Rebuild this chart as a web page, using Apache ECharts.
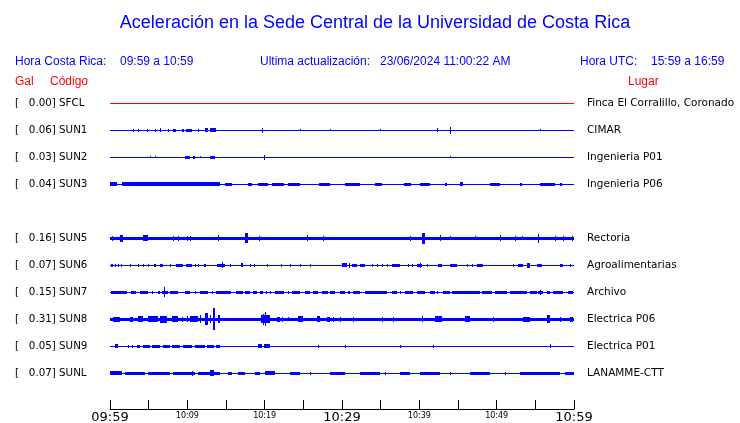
<!DOCTYPE html>
<html>
<head>
<meta charset="utf-8">
<script src="https://cdn.jsdelivr.net/npm/echarts@6/dist/echarts.min.js"></script>
<style>html,body{margin:0;padding:0;background:#fff}#c{width:740px;height:423px}</style>
</head>
<body>
<div id="c"></div>
<script>
// ---- data ----
const codes = ['SFCL','SUN1','SUN2','SUN3','','SUN5','SUN6','SUN7','SUN8','SUN9','SUNL'];
const galValues = [0.00, 0.06, 0.03, 0.04, null, 0.16, 0.07, 0.15, 0.31, 0.05, 0.07];
const places = ['Finca El Corralillo, Coronado','CIMAR','Ingenieria P01','Ingenieria P06','','Rectoria','Agroalimentarias','Archivo','Electrica P06','Electrica P01','LANAMME-CTT'];
const timeLabels = ['09:59','10:09','10:19','10:29','10:39','10:49','10:59'];
const majorLabels = ['09:59','10:29','10:59'];

// bursts: [start minute, end minute, half amplitude] (minutes after 09:59)
const sfcl = [[0,60,0.5]];
const sun1 = [[0,60,0.5],[2.97,2.97,1.5],[3.62,3.62,1.5],[4.78,4.78,1.5],[5.82,5.82,1.5],[6.47,6.47,2],[7.5,7.5,1.5],[8.15,8.53,1.5],[9.31,9.57,1.5],[9.83,10.6,1.5],[11.38,11.38,1.5],[12.28,12.67,2],[12.93,13.7,2],[19.65,19.65,2.5],[24.57,24.57,1],[28.45,28.45,1],[34.91,34.91,1],[42.28,42.28,2],[43.97,43.97,3.5],[55.6,55.6,1]];
const sun2 = [[0,60,0.5],[5.17,5.17,1],[5.82,5.82,1],[9.7,10.34,1.5],[10.73,10.99,1.5],[11.64,11.64,1],[12.93,13.58,1.5],[19.91,19.91,2.5],[43.97,43.97,1]];
const sun3 = [[0,60,0.5],[0,0.9,2],[1.6,14.2,2],[14.9,15.8,1.5],[17.9,18.3,1.5],[19.1,20.4,1.5],[21.0,22.5,1.5],[23.0,24.6,1.5],[27.0,28.4,1.5],[30.4,32.3,1.5],[34.3,35.2,1.5],[38.0,38.9,1.5],[40.1,41.4,1.5],[43.3,43.6,1.5],[45.3,45.6,2],[49.1,50.4,1.5],[53.0,53.3,1.5],[55.6,57.5,1.5],[58.2,58.5,1.5]];
const sun5 = [[0,60,1.5],[0.26,0.26,2.5],[1.29,1.68,3.5],[4.27,4.91,3],[8.15,8.15,2.5],[8.79,8.79,2.5],[9.96,9.96,2.5],[10.34,10.34,2.5],[13.97,13.97,3],[17.46,17.85,5],[19.27,19.27,2.5],[25.5,25.6,3],[27.54,27.54,2.5],[38.79,38.79,2.5],[40.35,40.73,5.5],[42.67,42.67,3],[43.97,43.97,2],[47.2,47.2,2],[50.43,50.43,3],[52.37,52.37,2.5],[53.27,53.27,2],[55.34,55.34,4.5],[57.54,57.54,2.5],[58.58,58.58,2.5],[59.74,59.87,2.5]];
const sun6 = [[0,60,0.5],[0.13,0.39,1.5],[0.65,0.65,1.5],[1.03,1.03,1.5],[1.42,1.42,1.5],[2.59,2.59,1.5],[3.62,3.62,1.5],[4.27,4.27,1.5],[4.91,5.04,1.5],[5.69,5.95,1.5],[6.47,6.85,1.5],[7.76,7.76,1.5],[8.53,9.44,1.5],[9.83,10.6,1.5],[10.99,10.99,1.5],[11.38,11.38,1.5],[12.15,12.41,1.5],[13.84,14.87,1.5],[14.48,14.48,3],[15.52,15.52,1.5],[16.94,17.2,2],[18.1,18.1,1.5],[18.62,18.62,1.5],[20.3,20.3,1.5],[22.11,22.11,1.5],[23.28,23.28,1.5],[24.57,24.57,1.5],[25.86,25.86,1.5],[30.0,30.65,2],[30.9,30.9,2.5],[31.29,31.94,1.5],[32.33,32.97,1.5],[33.88,33.88,1.5],[34.53,34.53,1.5],[35.17,35.17,1.5],[35.82,35.82,1.5],[36.47,37.5,1.5],[38.53,38.53,1.5],[39.05,39.05,1.5],[39.7,40.35,1.5],[40.09,40.09,2.5],[40.99,40.99,1.5],[42.41,42.93,1.5],[43.97,44.87,1.5],[46.16,46.16,1.5],[46.81,46.81,1.5],[47.46,48.23,1.5],[52.11,52.11,1.5],[52.76,53.4,1.5],[53.92,54.31,2.5],[55.21,55.86,1.5],[58.19,58.58,1.5],[59.48,59.48,1.5]];
const sun7 = [[0,60,0.5],[0.13,2.2,1.5],[2.72,3.36,1.5],[3.88,4.91,1.5],[5.43,5.43,1.5],[6.21,6.47,1.5],[6.72,7.5,1.5],[6.98,6.98,5],[7.76,8.79,1.5],[9.7,10.34,1.5],[10.99,10.99,1.5],[11.64,12.67,1.5],[13.19,13.19,1.5],[13.71,15.65,1.5],[16.29,17.2,1.5],[17.46,18.1,1.5],[18.49,19.01,1.5],[19.4,19.78,1.5],[20.17,20.17,1.5],[20.69,20.69,1.5],[21.34,22.5,1.5],[23.02,23.02,1.5],[23.53,24.57,1.5],[25.22,25.86,1.5],[26.25,26.9,1.5],[27.41,28.19,1.5],[28.45,29.09,1.5],[29.74,30.39,1.5],[30.78,31.03,1.5],[31.42,32.33,1.5],[32.97,35.82,1.5],[36.47,37.11,1.5],[37.5,37.5,1.5],[38.15,39.18,1.5],[39.7,40.73,1.5],[41.38,42.03,1.5],[42.28,42.28,1.5],[43.06,43.97,1.5],[44.22,47.84,1.5],[48.1,49.4,1.5],[49.78,51.33,1.5],[51.72,53.92,1.5],[54.31,55.21,1.5],[55.34,55.99,1.5],[55.6,55.6,2.5],[56.51,56.9,1.5],[57.28,58.58,1.5],[59.22,59.87,1.5]];
const sun8 = [[0,60,1.5],[0.39,1.29,2.5],[2.59,2.97,2.5],[3.62,4.27,3],[4.91,6.21,3],[6.47,7.37,3.5],[8.02,8.79,3],[9.31,9.44,2.5],[9.96,9.96,3],[10.34,11.38,3],[11.64,11.64,4],[12.28,12.67,6],[12.93,12.93,4],[13.32,13.58,11],[13.97,14.22,4],[19.53,20.69,4],[20.04,20.17,7],[19.8,19.9,5.5],[21.6,21.98,2.5],[22.24,22.24,2.5],[23.02,23.02,2],[24.31,24.96,3],[26.77,27.16,3],[28.06,28.45,2.5],[28.84,28.84,2.5],[29.74,29.74,2.5],[31.42,31.42,2.5],[35.17,35.17,2.5],[36.59,36.59,2.5],[40.35,40.35,3],[42.03,42.93,3],[45.91,46.55,3],[49.52,49.52,2.5],[53.4,54.31,2.5],[56.51,56.9,4],[58.19,58.19,2.5],[59.48,59.87,2.5]];
const sun9 = [[0,60,0.5],[0.65,1.03,2],[2.33,2.33,1.5],[2.84,2.97,1.5],[3.49,3.88,1.5],[4.27,5.17,1.5],[5.43,6.47,1.5],[6.85,7.76,1.5],[8.02,9.05,1.5],[9.44,10.6,1.5],[10.99,12.28,1.5],[12.54,13.45,1.5],[13.71,14.22,1.5],[19.14,19.65,2],[19.91,20.69,2],[26.9,26.9,1.5],[30.39,30.39,1.5],[37.5,37.5,1.5],[41.77,41.77,1.5],[56.9,56.9,2]];
const sunl = [[0,60,0.5],[0,1.55,2],[1.94,4.53,1.5],[4.91,7.76,1.5],[8.15,10.99,1.5],[10.6,10.6,2.5],[11.38,14.22,1.5],[12.93,13.45,3],[15.26,15.78,1.5],[16.55,17.46,1.5],[18.75,19.4,1.5],[20.04,21.34,2],[23.28,24.57,1.5],[25.86,25.86,1.5],[28.45,30.39,1.5],[32.33,34.91,1.5],[35.56,35.56,1.5],[37.5,38.79,1.5],[40.09,42.67,1.5],[43.97,43.97,1.5],[46.55,49.14,1.5],[51.08,51.08,1.5],[53.02,58.19,1.5],[58.84,60,1.5]];
const traces = [sfcl, sun1, sun2, sun3, null, sun5, sun6, sun7, sun8, sun9, sunl];

// ---- chart ----
const ROW = 27;
const chart = echarts.init(document.getElementById('c'), null, {renderer: 'canvas'});
const series = [];
traces.forEach((tr, i) => {
  if (!tr) return;
  const off = i * ROW;
  const color = codes[i] === 'SFCL' ? '#ff0000' : '#0000ff';
  series.push({
    type: 'custom',
    coordinateSystem: 'cartesian2d',
    silent: true,
    encode: {x: [0, 1], y: 3},
    data: tr.map(b => [b[0], b[1], b[2], off]),
    renderItem: function (params, api) {
      const p0 = api.coord([api.value(0), api.value(3) - api.value(2)]);
      const p1 = api.coord([api.value(1), api.value(3) + api.value(2)]);
      const x = Math.round(p0[0]);
      const w = Math.max(1, Math.round(p1[0]) - x);
      const yTop = Math.round(Math.min(p0[1], p1[1]));
      const h = Math.max(1, Math.round(Math.abs(p1[1] - p0[1])));
      return {type: 'rect', shape: {x: x, y: yTop, width: w, height: h}, style: {fill: color}};
    }
  });
});

function rowIndex(v) {
  const idx = Math.round(v / ROW);
  if (Math.abs(v - idx * ROW) > 0.01 || idx < 0 || idx >= codes.length || !codes[idx]) return -1;
  return idx;
}

const yBase = {
  type: 'value', inverse: true, min: -ROW, max: ROW * 11.33, interval: ROW,
  axisLine: {show: false}, axisTick: {show: false}, splitLine: {show: false}
};

const blue = '#0000ff', red = '#ff0000';
const hdr = '12px "Liberation Sans"';

const option = {
  animation: false,
  backgroundColor: '#ffffff',
  grid: {left: 110, right: 166, top: 76, height: 333, containLabel: false, outerBoundsMode: 'none'},
  xAxis: {
    type: 'value', min: 0, max: 60, interval: 5, position: 'bottom',
    axisLine: {show: true, onZero: false, lineStyle: {color: '#000', width: 1}},
    axisTick: {show: true, inside: true, length: 9, lineStyle: {color: '#000'}},
    splitLine: {show: false},
    axisLabel: {
      margin: 2, color: '#000', showMinLabel: true, showMaxLabel: true,
      formatter: function (v) {
        if (v % 10 !== 0) return '';
        const t = timeLabels[v / 10];
        return majorLabels.indexOf(t) >= 0 ? '{big|' + t + '}' : '{small|' + t + '}';
      },
      rich: {
        big: {fontFamily: 'DejaVu Sans', fontSize: 13, color: '#000'},
        small: {fontFamily: 'DejaVu Sans', fontSize: 8, color: '#000', padding: [1, 0, 0, 0]}
      }
    }
  },
  yAxis: [
    Object.assign({}, yBase, {
      position: 'left',
      axisLabel: {
        margin: 95, align: 'left', color: '#000', fontFamily: 'DejaVu Sans', fontSize: 10.3,
        formatter: function (v) {
          const i = rowIndex(v);
          return i < 0 ? '' : '[   ' + galValues[i].toFixed(2) + '] ' + codes[i];
        }
      }
    }),
    Object.assign({}, yBase, {
      position: 'right',
      axisLabel: {
        margin: 13, align: 'left', color: '#000', fontFamily: 'DejaVu Sans', fontSize: 10.5,
        formatter: function (v) {
          const i = rowIndex(v);
          return i < 0 ? '' : places[i];
        }
      }
    })
  ],
  graphic: [
    {type: 'text', x: 375, y: 14, style: {text: 'Aceleración en la Sede Central de la Universidad de Costa Rica', fill: blue, font: '18px "Liberation Sans"', textAlign: 'center'}},
    {type: 'text', x: 15, y: 56, style: {text: 'Hora Costa Rica:', fill: blue, font: hdr}},
    {type: 'text', x: 120, y: 56, style: {text: '09:59 a 10:59', fill: blue, font: hdr}},
    {type: 'text', x: 260, y: 56, style: {text: 'Ultima actualización:', fill: blue, font: hdr}},
    {type: 'text', x: 380, y: 56, style: {text: '23/06/2024 11:00:22 AM', fill: blue, font: hdr}},
    {type: 'text', x: 580, y: 56, style: {text: 'Hora UTC:', fill: blue, font: hdr}},
    {type: 'text', x: 651, y: 56, style: {text: '15:59 a 16:59', fill: blue, font: hdr}},
    {type: 'text', x: 15, y: 76, style: {text: 'Gal', fill: red, font: hdr}},
    {type: 'text', x: 50, y: 76, style: {text: 'Código', fill: red, font: hdr}},
    {type: 'text', x: 628, y: 76, style: {text: 'Lugar', fill: red, font: hdr}}
  ],
  series: series
};
chart.setOption(option);
</script>
</body>
</html>
